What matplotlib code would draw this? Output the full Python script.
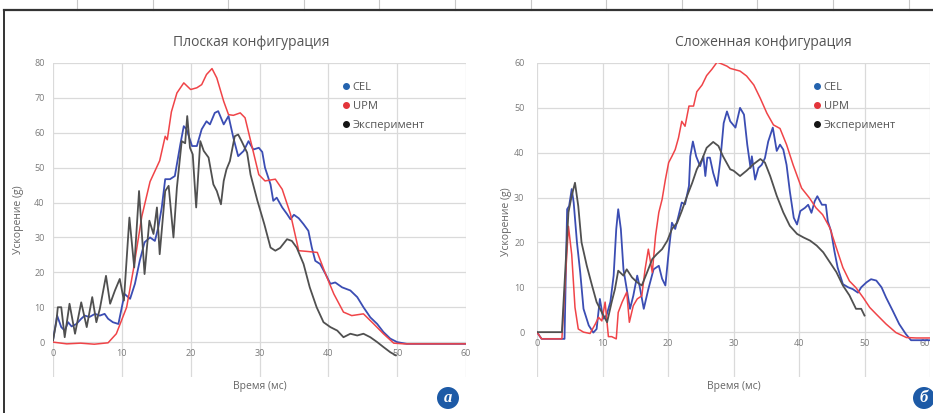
import numpy as np
import matplotlib
matplotlib.use("Agg")
import matplotlib.pyplot as plt
from matplotlib.lines import Line2D

plt.rcParams['font.family'] = ['Open Sans', 'DejaVu Sans']

# ---- Плоская конфигурация (a) ----
upm_a_t = [0, 2, 4, 6, 8, 9.2, 10.7, 11.7, 12.9, 14.1, 15.5, 16.3, 16.6, 17.2, 18, 19, 20, 20.9, 21.6, 22.3,
           23.1, 23.8, 24.8, 25.5, 26.2, 27.2, 27.9, 28.6, 29.9, 30.8, 32.3, 33.3, 34.5, 35.7, 36.9, 38.4,
           39.6, 40.8, 42.2, 43.4, 45.1, 46.6, 48, 49.5, 51, 55, 60]
upm_a_v = [0, -0.5, -0.3, -0.6, -0.2, 2.4, 10, 21, 36, 46, 52, 59, 58, 66, 71.4, 74.3, 72.4, 72.9, 73.8, 76.7,
           78.4, 75.7, 69, 65.2, 65, 65.7, 64.3, 58.6, 48, 46.2, 46.7, 43.8, 36.7, 26.2, 26, 25.7,
           19.5, 13.8, 8.6, 7.6, 8.1, 5.2, 2.4, -0.3, -0.5, -0.5, -0.5]

cel_a_t = [0, 0.6, 1.2, 1.7, 2.2, 2.7, 3.4, 4.1, 4.6, 5.3, 6.1, 6.8, 7.5, 8, 8.7, 9.5, 10, 10.4, 11.2, 11.9,
           12.6, 13.3, 14.1, 14.8, 15.3, 15.8, 16.3, 17, 17.7, 18.5, 19, 19.4, 20.2, 20.9, 21.6, 22.3, 22.8,
           23.5, 24, 24.8, 25.5, 26.2, 26.9, 27.7, 28.4, 29.1, 29.9, 30.4, 30.8, 31.6, 32, 32.5, 33.3, 34,
           34.5, 35, 35.7, 36.4, 37.1, 37.6, 38.1, 38.8, 39.6, 40.3, 41, 42, 43.2, 44.2, 45.1, 46.1, 47.1,
           48, 49, 50, 51.4, 55, 60]
cel_a_v = [0.5, 7.6, 4.3, 3.3, 5.7, 4.5, 5.2, 6.7, 7.6, 7.2, 8.1, 7.6, 8.1, 6.7, 5.7, 5.2, 10, 13.8, 12.4, 16.7,
           23.3, 28.6, 30, 29, 32.9, 38.6, 46.7, 46.7, 47.6, 56.7, 61.9, 61, 56.2, 56.2, 61, 63.3, 62.4,
           65.7, 66.2, 62.4, 64.8, 58.6, 53.3, 54.8, 57.6, 55.2, 55.7, 54.5, 50, 45.2, 40.5, 41.4, 38.6, 36.7,
           35.2, 36.5, 35.5, 33.8, 31.9, 27.1, 23.3, 22.4, 19.5, 16.7, 17.1, 15.7, 14.8, 12.9, 10, 7.1, 5.2,
           2.9, 1, 0, -0.5, -0.5, -0.5]

exp_a_t = [0, 0.5, 0.7, 1.2, 1.7, 2.4, 3.2, 4.1, 4.9, 5.7, 6.3, 6.8, 7.7, 8.3, 9, 9.7, 10.3, 11.1, 11.8, 12.5,
           13.3, 14, 14.6, 15.1, 15.5, 16.3, 16.8, 17.5, 18, 18.7, 19.2, 19.5, 19.9, 20.3, 20.8, 21.4, 21.9,
           22.6, 23.3, 23.8, 24.4, 24.8, 25.2, 25.7, 26.4, 26.9, 27.4, 28.2, 28.7, 29.7, 30.7, 31.6, 32.3,
           33, 34, 34.7, 35.4, 36.4, 37.3, 38.3, 39.3, 40.3, 41.3, 42.2, 43.2, 44.2, 45.1, 46.1, 47.1, 48,
           49, 49.8]
exp_a_v = [0.5, 6, 10, 10, 1.4, 11, 2.4, 11.4, 4.3, 12.9, 5.7, 9.5, 19, 11, 14.8, 18.1, 11.9, 35.7, 21.4, 43.3,
           19.5, 34.8, 31, 38.6, 25.2, 43.3, 44.8, 30, 44.3, 57.6, 57, 64.8, 55.7, 53.8, 38.6, 57.6, 54.8,
           52.9, 45.2, 43.3, 39.5, 46.2, 49.5, 51.9, 59, 59.5, 57.6, 54.3, 48, 40.5, 33.8, 27.1, 26.2,
           27, 29.5, 29, 27.1, 22.4, 15.7, 10, 5.7, 4.3, 3.3, 1.4, 2.4, 1.9, 2.4, 1.4, 0, -1.4,
           -2.9, -3.8]

# ---- Сложенная конфигурация (б) ----
upm_b_t = [0, 0.7, 3.8, 4.8, 5.3, 5.8, 6.3, 7.1, 8.1, 8.9, 9.4, 9.9, 10.4, 10.9, 11.4, 12.1, 12.4, 13, 13.7,
           14.1, 14.7, 15.3, 16, 16.5, 17, 17.6, 18.1, 18.6, 19.1, 19.6, 20.1, 20.6, 21.1, 21.6, 22.1, 22.6,
           23.2, 23.9, 24.4, 25.2, 25.9, 26.7, 27.5, 28.2, 29, 29.5, 31, 32, 33.1, 34.1, 35.1, 36.1, 37.1,
           38.1, 39.1, 40.4, 41.6, 42.6, 43.6, 44.7, 45.7, 46.7, 47.7, 48.7, 49.8, 50.8, 51.8, 53.3, 54.8,
           56.4, 57.9, 60]
upm_b_v = [0, -1.5, -1.5, 23.6, 17.3, 5.5, 0.7, 0, -0.3, 1.8, 3.3, 2.5, 6.7, -1, -1, -1.5, 4.4, 6.7, 8.9,
           2.2, 5.9, 7.4, 8.1, 14, 18.5, 13.3, 21.5, 26.7, 29.6, 34, 37.8, 39.2, 40.7, 43.3, 47, 45.9,
           50.4, 50.4, 53.6, 55.1, 57.2, 58.6, 60.2, 59.8, 59.3, 58.8, 58.2, 57.1, 55.1, 52.1, 48.8, 46.2, 45.4,
           41.8, 37.3, 32.1, 29.9, 27.7, 26.2, 23.3, 18.8, 14.4, 11.4, 9.9, 7.7, 5.5, 4, 1.8, -0.1,
           -1.2, -1.3, -1.3]

cel_b_t = [0, 0.7, 4.2, 4.6, 4.9, 5.3, 5.6, 6.1, 6.6, 7.1, 7.9, 8.6, 9.1, 9.6, 10.1, 10.6, 11.2, 11.7, 12.1,
           12.4, 12.8, 13.2, 13.7, 14.2, 14.7, 15.3, 15.7, 16.3, 17, 17.8, 18.6, 19.1, 19.6, 20.1, 20.6, 21.1,
           21.6, 22.1, 22.6, 23.2, 23.4, 23.8, 24.3, 24.9, 25.4, 25.7, 26, 26.4, 26.9, 27.5, 28, 28.5, 29,
           29.5, 30.3, 31, 31.6, 32.1, 32.6, 32.8, 33.3, 33.8, 34.3, 34.8, 35.3, 36, 36.6, 37.1, 37.6, 38.1,
           38.6, 39.2, 39.7, 40.2, 40.9, 41.4, 41.9, 42.4, 42.8, 43.5, 44.1, 44.4, 44.9, 45.4, 45.9, 46.7,
           47.5, 48.2, 49, 49.5, 50.3, 51, 51.8, 52.6, 53.3, 54.3, 55.3, 56.3, 57.1, 57.8, 60]
cel_b_v = [0, -1.5, -1.5, 27.4, 28.1, 31.9, 28.9, 20, 13.3, 5.2, 1.5, -0.1, 0.7, 7.4, 3, 3.7, 6.7, 12.6, 23,
           27.4, 23, 14, 9.6, 5.2, 8.1, 12.6, 10, 5.2, 9.6, 14, 14.8, 11.9, 10.4, 17.8, 24.4, 23,
           25.9, 28.9, 28.5, 32.6, 39.2, 42.5, 39.2, 37, 39.2, 34.8, 38.9, 38.9, 35.5, 32.6, 38.5, 46.6, 49.2,
           47, 45.6, 50, 48.5, 41.8, 36.6, 39.2, 34, 36.6, 37.3, 38.8, 42.5, 45.6, 40.4, 41.8, 40.7, 37.3,
           31.4, 25.5, 24, 27, 27.7, 28.4, 26.6, 29.2, 30.3, 28.4, 28.4, 24.7, 22.5, 18.1, 14.4, 10.7,
           10, 9.6, 8.8, 10, 11.1, 11.8, 11.5, 10, 7.7, 4.8, 1.8, -0.4, -1.8, -1.8, -1.8]

exp_b_t = [0, 3.8, 4.8, 5.3, 5.8, 6.3, 6.8, 7.6, 8.4, 9.1, 9.9, 10.7, 11.4, 11.9, 12.4, 13.2, 13.7, 14.5, 15.3,
           16, 16.8, 17.6, 18.3, 19.1, 19.9, 20.6, 21.4, 22.1, 22.9, 23.7, 24.4, 25.2, 25.9, 26.9, 27.7,
           28.4, 29.5, 30, 31, 32, 33.1, 34.1, 34.8, 35.6, 36.6, 37.6, 38.6, 39.7, 40.7, 41.7, 42.7, 43.7,
           44.7, 45.7, 46.7, 47.7, 48.7, 49.5, 50]
exp_b_v = [0, 0, 26.7, 30.4, 33.3, 28.1, 20, 14.8, 10.4, 6.7, 4.4, 2.2, 6.7, 9.6, 13.7, 12.6, 14, 12.2, 11.1,
           10.4, 13.3, 16.3, 17.4, 18.5, 20.4, 23, 24.4, 27, 30.3, 33.3, 36.3, 38.5, 41.1, 42.4, 41.5,
           39.2, 36.3, 36, 34.8, 36, 37.5, 38.6, 37.8, 34.8, 30.4, 26.7, 23.7, 21.9, 21.1, 20.4, 19.3, 17.8,
           15.6, 13.4, 10.4, 8.2, 5.2, 5.2, 3.7]

series_names = ['CEL', 'UPM', 'Эксперимент']
line_colors = ['#3b4db3', '#f04448', '#505050']
dot_colors = ['#2463ae', '#e3343a', '#151515']

W, H = 933, 413
fig = plt.figure(figsize=(W / 100, H / 100), dpi=100)
fig.patch.set_facecolor('white')

# spreadsheet strip on top + border
for xp in np.arange(77, W, 75.6):
    fig.add_artist(Line2D([xp / W, xp / W], [1, 1 - 10 / H], color='#c8c8c8', lw=0.8))
fig.add_artist(Line2D([4 / W, 1], [1 - 10 / H, 1 - 10 / H], color='#333333', lw=1.6))
fig.add_artist(Line2D([4 / W, 4 / W], [0, 1 - 10 / H], color='#333333', lw=1.4))


def panel(rect, data, ymax, title, title_x, legend_x, badge, badge_x, ypad):
    ax = fig.add_axes(rect)
    for (t, v), c, name in zip(data, line_colors, series_names):
        lw = 1.1 if name == 'UPM' else 1.3
        ax.plot(t, v, color=c, lw=lw, label=name, zorder=3)
    ax.set_xlim(0, 60)
    ax.set_ylim(-10, ymax)
    ax.set_xticks(range(0, 61, 10))
    ax.set_yticks(range(0, ymax + 1, 10))
    ax.grid(axis='x', color='#dadada', lw=0.9)
    for yv in range(0, ymax + 1, 10):
        ax.axhline(yv, color='#dadada', lw=0.9, zorder=1)
    for s in ax.spines.values():
        s.set_visible(False)
    ax.spines['bottom'].set_position(('data', 0))
    ax.tick_params(axis='both', length=0, labelsize=6.5, labelcolor='#7a7a7a')
    ax.tick_params(axis='x', pad=5)
    ax.tick_params(axis='y', pad=ypad)
    ax.set_axisbelow(True)

    handles = [Line2D([], [], marker='o', ls='none', color=c, markersize=4) for c in dot_colors]
    ax.legend(handles, series_names, loc='upper left', frameon=False,
              bbox_to_anchor=(legend_x / W, 1 - 76 / H), bbox_transform=fig.transFigure,
              borderpad=0, handlelength=0.6, handletextpad=0.3, labelspacing=0.72,
              fontsize=8, labelcolor='#555555')

    fig.text(title_x / W, 1 - 43 / H, title, ha='center', va='center', fontsize=10, color='#555555')
    cx = rect[0] + rect[2] / 2
    fig.text(cx, 1 - 387 / H, 'Время (мс)', ha='center', va='center', fontsize=7.5, color='#666666')
    fig.text(badge_x / W, 1 - 398 / H, badge, ha='center', va='center', fontsize=12, color='white',
             family='Liberation Serif', weight='bold', style='italic',
             bbox=dict(boxstyle='circle,pad=0.18', fc='#1d5aa6', ec='none'))
    return ax


ax1 = panel([53 / W, 1 - 377 / H, 413 / W, 314 / H],
            [(cel_a_t, cel_a_v), (upm_a_t, upm_a_v), (exp_a_t, exp_a_v)],
            80, 'Плоская конфигурация', 251, 337, 'a', 448, 6)
ax2 = panel([537 / W, 1 - 377 / H, 393 / W, 314 / H],
            [(cel_b_t, cel_b_v), (upm_b_t, upm_b_v), (exp_b_t, exp_b_v)],
            60, 'Сложенная конфигурация', 763, 808, 'б', 924, 9)
# the last tick label on the right panel sits at the picture edge
ax2.get_xticklabels()[-1].set_horizontalalignment('right')

fig.text(18 / W, 1 - 220 / H, 'Ускорение (g)', rotation=90, ha='center', va='center',
         fontsize=7.5, color='#666666')
fig.text(507 / W, 1 - 222 / H, 'Ускорение (g)', rotation=90, ha='center', va='center',
         fontsize=7.5, color='#666666')

fig.savefig('out.png', dpi=100)
